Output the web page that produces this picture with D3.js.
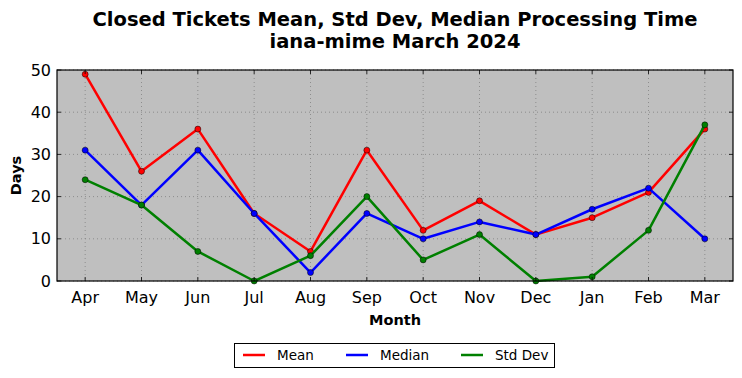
<!DOCTYPE html>
<html><head><meta charset="utf-8">
<script src="https://cdn.jsdelivr.net/npm/d3@7"></script>
<style>body{margin:0;background:#fff}svg{display:block;font-family:"DejaVu Sans",sans-serif}</style>
</head><body><svg id="c" width="742" height="378"></svg>
<script>
const months = ["Apr","May","Jun","Jul","Aug","Sep","Oct","Nov","Dec","Jan","Feb","Mar"];
const meanVals = [49,26,36,16,7,31,12,19,11,15,21,36];
const medianVals = [31,18,31,16,2,16,10,14,11,17,22,10];
const stdVals = [24,18,7,0,6,20,5,11,0,1,12,37];
const yTicks = [0,10,20,30,40,50];
const seriesList = [
  {name:"Mean", values:meanVals, color:"#ff0000"},
  {name:"Median", values:medianVals, color:"#0000ff"},
  {name:"Std Dev", values:stdVals, color:"#008000"}
];

const svg = d3.select("#c");
const L=57, R=733, T=70, B=281;
const x = d3.scaleLinear().domain([-0.5, months.length-0.5]).range([L,R]);
const y = d3.scaleLinear().domain([0,50]).range([B,T]);

svg.append("rect").attr("x",L).attr("y",T).attr("width",R-L).attr("height",B-T).attr("fill","#bfbfbf");

// grid
const g = svg.append("g");
months.forEach((m,i)=>{
  g.append("line").attr("x1",x(i)).attr("x2",x(i)).attr("y1",T).attr("y2",B)
   .attr("stroke","#808080").attr("stroke-width",0.8).attr("stroke-dasharray","1,3");
});
yTicks.forEach(v=>{
  g.append("line").attr("x1",L).attr("x2",R).attr("y1",y(v)).attr("y2",y(v))
   .attr("stroke","#808080").attr("stroke-width",0.8).attr("stroke-dasharray","1,3");
});

// series
const line = d3.line().x((d,i)=>x(i)).y(d=>y(d));
seriesList.forEach(s=>{
  svg.append("path").datum(s.values).attr("d",line).attr("fill","none")
    .attr("stroke",s.color).attr("stroke-width",2.5).attr("stroke-linejoin","round");
  svg.append("g").selectAll("circle").data(s.values).join("circle")
    .attr("cx",(d,i)=>x(i)).attr("cy",d=>y(d)).attr("r",3)
    .attr("fill",s.color).attr("stroke","#000").attr("stroke-width",0.5);
});

// frame
svg.append("rect").attr("x",L).attr("y",T).attr("width",R-L).attr("height",B-T)
  .attr("fill","none").attr("stroke","#000").attr("stroke-width",1.2);

// ticks inward, all sides
const tk = svg.append("g").attr("stroke","#000").attr("stroke-width",0.8);
months.forEach((m,i)=>{
  tk.append("line").attr("x1",x(i)).attr("x2",x(i)).attr("y1",B).attr("y2",B-4);
  tk.append("line").attr("x1",x(i)).attr("x2",x(i)).attr("y1",T).attr("y2",T+4);
});
yTicks.forEach(v=>{
  tk.append("line").attr("x1",L).attr("x2",L+4).attr("y1",y(v)).attr("y2",y(v));
  tk.append("line").attr("x1",R).attr("x2",R-4).attr("y1",y(v)).attr("y2",y(v));
});

// tick labels
months.forEach((m,i)=>{
  svg.append("text").attr("x",x(i)).attr("y",B+22).attr("text-anchor","middle")
    .attr("font-size",16).attr("fill","#000").text(m);
});
yTicks.forEach(v=>{
  svg.append("text").attr("x",L-6).attr("y",y(v)+5.5).attr("text-anchor","end")
    .attr("font-size",16).attr("fill","#000").text(v);
});

// axis labels
svg.append("text").attr("x",(L+R)/2).attr("y",325).attr("text-anchor","middle")
  .attr("font-size",14.5).attr("font-weight","bold").text("Month");
svg.append("text").attr("transform",`translate(21,${(T+B)/2}) rotate(-90)`).attr("text-anchor","middle")
  .attr("font-size",14.5).attr("font-weight","bold").text("Days");

// title
svg.append("text").attr("x",(L+R)/2).attr("y",25.5).attr("text-anchor","middle")
  .attr("font-size",19.5).attr("font-weight","bold").text("Closed Tickets Mean, Std Dev, Median Processing Time");
svg.append("text").attr("x",(L+R)/2).attr("y",47.5).attr("text-anchor","middle")
  .attr("font-size",19.5).attr("font-weight","bold").text("iana-mime March 2024");

// legend
const lg = svg.append("g");
lg.append("rect").attr("x",234.5).attr("y",343.5).attr("width",320).attr("height",24)
  .attr("fill","#fff").attr("stroke","#000").attr("stroke-width",1);
const lx = [243, 346, 461];
seriesList.forEach((s,i)=>{
  lg.append("line").attr("x1",lx[i]).attr("x2",lx[i]+22).attr("y1",355).attr("y2",355)
    .attr("stroke",s.color).attr("stroke-width",2.5);
  lg.append("text").attr("x",lx[i]+34).attr("y",360).attr("font-size",13.5).text(s.name);
});
</script></body></html>
